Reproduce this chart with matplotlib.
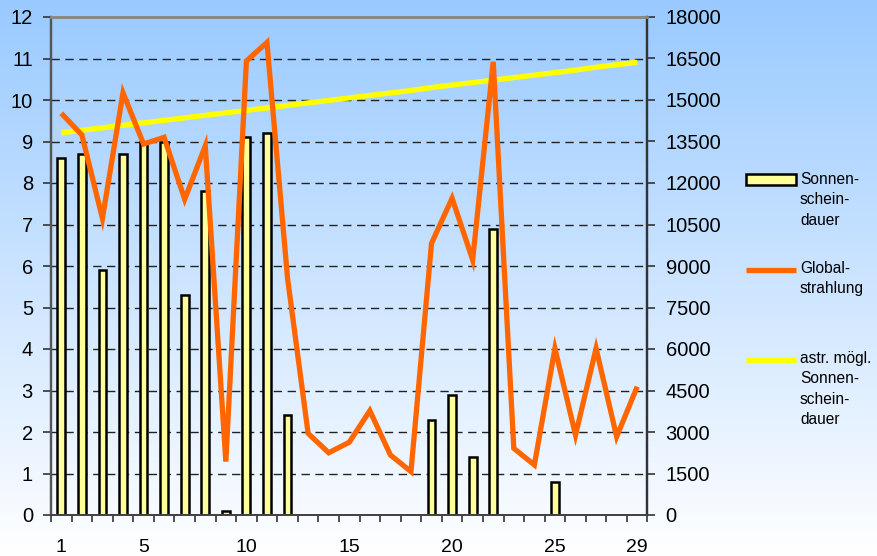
import matplotlib
matplotlib.use("Agg")
import matplotlib.pyplot as plt
import numpy as np
from matplotlib.patches import Rectangle
from matplotlib.lines import Line2D

plt.rcParams['font.family'] = ['Liberation Sans', 'DejaVu Sans']

days = list(range(1, 30))
sonnenschein = [8.6, 8.7, 5.9, 8.7, 9.0, 9.0, 5.3, 7.8, 0.1, 9.1, 9.2, 2.4,
                0, 0, 0, 0, 0, 0, 2.3, 2.9, 1.4, 6.9, 0, 0, 0.8, 0, 0, 0, 0]
globalstrahlung = [14520, 13740, 10720, 15260, 13410, 13650, 11410, 13340, 1930,
                   16410, 17080, 8560, 2950, 2250, 2630, 3770, 2170, 1570,
                   9820, 11450, 9220, 16380, 2410, 1810, 6020, 2890, 6020, 2830, 4640]
astr_moegl = [9.21, 9.27, 9.33, 9.39, 9.45, 9.51, 9.57, 9.63, 9.69, 9.75,
              9.81, 9.87, 9.93, 9.99, 10.05, 10.11, 10.17, 10.23, 10.30, 10.36,
              10.42, 10.48, 10.54, 10.60, 10.66, 10.72, 10.79, 10.85, 10.91]
xlabels = [1, 5, 10, 15, 20, 25, 29]
left_ticks = list(range(0, 13))
right_ticks = list(range(0, 18001, 1500))
legend_labels = ["Sonnen-\nschein-\ndauer", "Global-\nstrahlung",
                 "astr. mögl.\nSonnen-\nschein-\ndauer"]

W, H = 878, 556
fig = plt.figure(figsize=(W / 100, H / 100), dpi=100)

# background gradient
bg = fig.add_axes([0, 0, 1, 1], zorder=-10)
top = np.array([0.60, 0.79, 1.0])
bot = np.array([1.0, 1.0, 1.0])
t = np.linspace(0, 1, 256)[:, None]
grad = top[None, :] * (1 - t) + bot[None, :] * t
bg.imshow(grad[:, None, :], aspect='auto', extent=[0, 1, 0, 1])
bg.axis('off')

x0, x1 = 51 / W, 647.5 / W
y0, y1 = 1 - 515 / H, 1 - 17 / H
ax = fig.add_axes([x0, y0, x1 - x0, y1 - y0])
ax.set_facecolor('none')
ax2 = ax.twinx()

heights = np.array(sonnenschein, dtype=float)
mask = heights > 0
ax.bar(np.array(days)[mask], heights[mask], width=0.38, color='#FFFF99', edgecolor='black',
       linewidth=1.8, zorder=3)
ax.plot(days, astr_moegl, color='#FFFF00', lw=3.8, zorder=4, solid_capstyle='butt')
ax2.plot(days, globalstrahlung, color='#FF6600', lw=3.8, zorder=5,
         solid_capstyle='butt', solid_joinstyle='miter')

ax.set_xlim(0.5, 29.5)
ax.set_ylim(0, 12)
ax2.set_ylim(0, 18000)
ax.set_yticks(left_ticks)
ax2.set_yticks(right_ticks)
ax2.set_yticklabels([str(v) for v in right_ticks])

for y in range(1, 12):
    ax.axhline(y, color='#222222', lw=1.0, ls=(0, (6, 4)), zorder=1)

ax.set_xticks(xlabels)
ax.set_xticklabels([str(v) for v in xlabels])
ax.set_xticks(np.arange(0.5, 30, 1), minor=True)
ax.tick_params(axis='x', which='major', length=0, pad=17, labelsize=14)
ax.tick_params(axis='x', which='minor', length=5, width=1.2, color='#333333', direction='out')
ax.tick_params(axis='y', length=6, width=1.2, color='#333333', pad=7, labelsize=14.5)
ax2.tick_params(axis='y', length=6, width=1.2, color='#333333', pad=7, labelsize=14.5)

for a in (ax, ax2):
    a.spines['top'].set_color('#888888')
    a.spines['top'].set_linewidth(2)
    a.spines['left'].set_color('#555555')
    a.spines['left'].set_linewidth(1.6)
    a.spines['right'].set_color('#333333')
    a.spines['right'].set_linewidth(1.6)
    a.spines['bottom'].set_color('#444444')
    a.spines['bottom'].set_linewidth(1.4)

# legend drawn manually
def fx(px):
    return px / W

def fy(py):
    return 1 - py / H

fig.patches.append(Rectangle((fx(746), fy(185)), fx(796) - fx(746), fy(174) - fy(185),
                             transform=fig.transFigure, facecolor='#FFFF99',
                             edgecolor='black', linewidth=1.8, zorder=10))
fig.lines.append(Line2D([fx(746), fx(796)], [fy(270), fy(270)], transform=fig.transFigure,
                        color='#FF6600', lw=3.8, solid_capstyle='butt', zorder=10))
fig.lines.append(Line2D([fx(746), fx(796)], [fy(360), fy(360)], transform=fig.transFigure,
                        color='#FFFF00', lw=3.8, solid_capstyle='butt', zorder=10))
for ypx, lab in zip([181, 270, 360], legend_labels):
    fig.text(fx(800), fy(ypx - 9), lab, fontsize=11.2, va='top', ha='left',
             linespacing=1.45, color='black')

fig.savefig('out.png', dpi=100)
